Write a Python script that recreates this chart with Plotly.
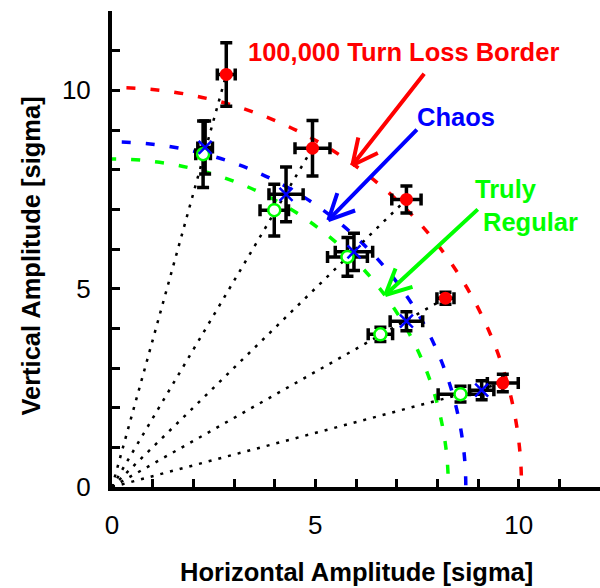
import math
import plotly.graph_objects as go

# ---------------- data ----------------
red_x = [2.81, 4.93, 7.24, 8.20, 9.61]
red_y = [10.40, 8.54, 7.25, 4.76, 2.62]
red_ex = [0.22, 0.43, 0.36, 0.21, 0.38]
red_ey = [0.80, 0.70, 0.34, 0.15, 0.22]

blue_x = [2.29, 4.28, 5.95, 7.24, 9.09]
blue_y = [8.56, 7.38, 5.93, 4.18, 2.44]
blue_ex = [0.18, 0.42, 0.46, 0.40, 0.30]
blue_ey = [0.67, 0.69, 0.47, 0.24, 0.24]

green_x = [2.24, 3.99, 5.79, 6.60, 8.57]
green_y = [8.39, 6.98, 5.80, 3.85, 2.34]
green_ex = [0.18, 0.35, 0.49, 0.30, 0.55]
green_ey = [0.84, 0.65, 0.49, 0.18, 0.20]

# radii of the dashed reference borders (loss, chaos, regular)
border_radius = [10.07, 8.70, 8.27]
border_color = ["#ff0000", "#0000ff", "#00ff00"]

tick_values = list(range(13))
tick_labels = ["0", "", "", "", "", "5", "", "", "", "", "10", "", ""]

FONT = "Liberation Sans, Arial, sans-serif"

fig = go.Figure()

# dotted rays from origin to the loss-border points
ray_x, ray_y = [], []
for xv, yv in zip(red_x, red_y):
    ray_x += [0, xv, None]
    ray_y += [0, yv, None]
fig.add_trace(go.Scatter(x=ray_x, y=ray_y, mode="lines",
                         line=dict(color="black", width=2.5, dash="3px,7px"),
                         hoverinfo="skip", showlegend=False))

# dashed quarter circles
for r, c in zip(border_radius, border_color):
    fig.add_shape(type="circle", xref="x", yref="y", x0=-r, y0=-r, x1=r, y1=r,
                  line=dict(color=c, width=3.5, dash="9px,15px"), layer="below")

# error bars (all drawn below the markers)
for xs, ys, ex, ey in [(green_x, green_y, green_ex, green_ey),
                       (blue_x, blue_y, blue_ex, blue_ey),
                       (red_x, red_y, red_ex, red_ey)]:
    fig.add_trace(go.Scatter(
        x=xs, y=ys, mode="markers", marker=dict(size=1, opacity=0),
        error_x=dict(type="data", array=ex, color="black", thickness=3.5, width=6),
        error_y=dict(type="data", array=ey, color="black", thickness=3.5, width=6),
        hoverinfo="skip", showlegend=False))

# markers
fig.add_trace(go.Scatter(x=green_x, y=green_y, mode="markers", showlegend=False,
                         marker=dict(symbol="circle", size=12, color="white",
                                     line=dict(color="#00ff00", width=2.5))))
fig.add_trace(go.Scatter(x=blue_x, y=blue_y, mode="markers", showlegend=False,
                         marker=dict(symbol="x-thin", size=13,
                                     line=dict(color="#0000ff", width=2.5))))
fig.add_trace(go.Scatter(x=red_x, y=red_y, mode="markers", showlegend=False,
                         marker=dict(symbol="circle", size=13, color="#ff0000")))

# text labels
def label(text, x, y, color):
    fig.add_annotation(x=x, y=y, xref="x", yref="y", text=text, showarrow=False,
                       font=dict(family=FONT, size=25.5, color=color, weight="bold"),
                       xanchor="center", yanchor="middle")

label("100,000 Turn Loss Border", 7.17, 10.96, "#ff0000")
label("Chaos", 8.47, 9.32, "#0000ff")
label("Truly", 9.70, 7.51, "#00ff00")
label("Regular", 10.30, 6.68, "#00ff00")

# arrows: tip in data coordinates, tail as pixel offset from the tip;
# open "V" head drawn as two short wings
def arrow(tip_x, tip_y, dx, dy, color, wing_len=30, wing_deg=26):
    line_kw = dict(xref="x", yref="y", text="", showarrow=True, arrowhead=0,
                   arrowwidth=4, arrowcolor=color, standoff=0, startstandoff=0)
    fig.add_annotation(x=tip_x, y=tip_y, ax=dx, ay=dy, **line_kw)
    ang = math.atan2(dy, dx)
    for s in (-1, 1):
        a = ang + s * math.radians(wing_deg)
        fig.add_annotation(x=tip_x, y=tip_y, ax=wing_len * math.cos(a),
                           ay=wing_len * math.sin(a), **line_kw)

arrow(5.91, 8.11, 73, -93, "#ff0000")
arrow(5.32, 6.73, 90, -92, "#0000ff")
arrow(6.72, 4.84, 94, -87, "#00ff00")

# axis titles
fig.add_annotation(x=0.5, y=-0.178, xref="paper", yref="paper",
                   text="Horizontal Amplitude [sigma]", showarrow=False,
                   font=dict(family=FONT, size=25.5, color="black", weight="bold"),
                   xanchor="center", yanchor="middle")
fig.add_annotation(x=-0.165, y=0.485, xref="paper", yref="paper",
                   text="Vertical Amplitude [sigma]", showarrow=False, textangle=-90,
                   font=dict(family=FONT, size=25.5, color="black", weight="bold"),
                   xanchor="center", yanchor="middle")

axis_common = dict(tickvals=tick_values, ticktext=tick_labels, ticks="inside",
                   ticklen=8, tickwidth=3, tickcolor="black",
                   showline=True, linewidth=4, linecolor="black",
                   showgrid=False, zeroline=False, automargin=False,
                   tickfont=dict(family=FONT, size=26, color="black"),
                   ticklabelstandoff=12)

fig.update_xaxes(range=[0, 12], **axis_common)
fig.update_yaxes(range=[0, 12], **axis_common)

fig.update_layout(width=600, height=588,
                  margin=dict(l=112, r=0, t=11, b=101),
                  paper_bgcolor="white", plot_bgcolor="white",
                  showlegend=False)

fig.write_html("out.html")
